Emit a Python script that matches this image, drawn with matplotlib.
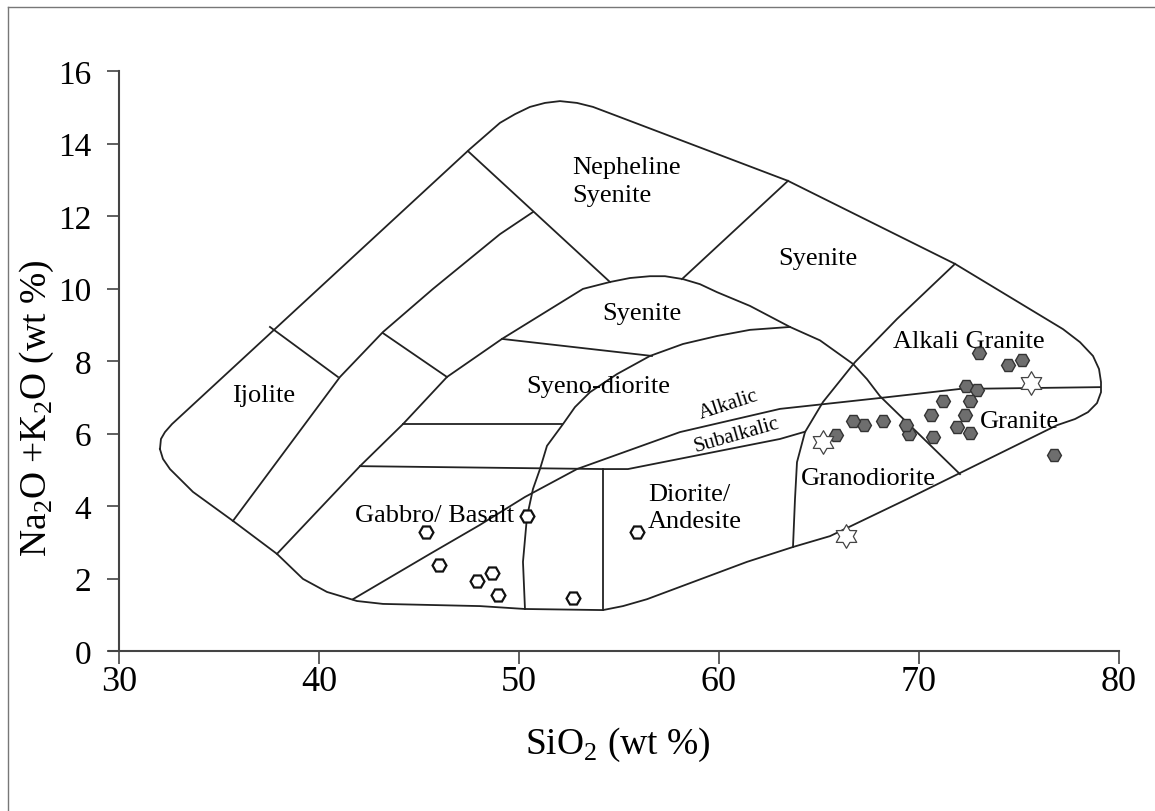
import matplotlib
matplotlib.use('Agg')
import matplotlib.pyplot as plt
from matplotlib.path import Path
from matplotlib.lines import Line2D

plt.rcParams['font.family'] = ['Liberation Serif', 'DejaVu Serif']
plt.rcParams['mathtext.fontset'] = 'custom'
plt.rcParams['mathtext.rm'] = 'Liberation Serif'

# ─── samples: SiO2 vs Na2O+K2O (wt %) ───────────────────────────
granite_sio2 = [73.0, 74.45, 75.15, 72.35, 72.9, 72.55, 71.2, 70.6, 72.3, 71.9,
                72.55, 70.7, 69.5, 69.35, 68.2, 67.25, 66.7, 65.85, 76.75]
granite_alk = [8.22, 7.89, 8.03, 7.31, 7.20, 6.90, 6.90, 6.51, 6.51, 6.18,
               6.01, 5.90, 5.99, 6.23, 6.34, 6.23, 6.34, 5.96, 5.41]

mafic_sio2 = [45.35, 46.0, 47.9, 48.65, 48.95, 50.4, 52.7, 55.9]
mafic_alk = [3.28, 2.37, 1.93, 2.15, 1.54, 3.72, 1.46, 3.28]

star_sio2 = [75.6, 65.2, 66.35]
star_alk = [7.39, 5.77, 3.17]

# ─── field boundaries (SiO2, alkali) ─────────────────────────────
outline = [
    (32.05, 5.57), (32.1, 5.85), (32.3, 6.04), (32.65, 6.26), (47.55, 13.85),
    (48.3, 14.21), (49.05, 14.57), (49.8, 14.81), (50.55, 15.01), (51.3, 15.12),
    (52.05, 15.17), (52.9, 15.12), (53.7, 15.01), (54.9, 14.76), (63.45, 12.97),
    (71.8, 10.68), (77.2, 8.88), (78.05, 8.52), (78.7, 8.14), (79.0, 7.78),
    (79.1, 7.42), (79.1, 7.14), (78.9, 6.84), (78.45, 6.59), (77.8, 6.40),
    (76.9, 6.23), (69.4, 4.19), (65.55, 3.17), (63.7, 2.87), (61.4, 2.46),
    (58.05, 1.77), (56.4, 1.43), (55.2, 1.24), (54.2, 1.13), (50.3, 1.16),
    (48.05, 1.24), (43.2, 1.30), (41.9, 1.38), (40.4, 1.63), (39.2, 1.99),
    (37.9, 2.68), (35.7, 3.59), (33.7, 4.39), (32.55, 5.02), (32.2, 5.3),
    (32.05, 5.57),
]

# diagonal behind ijolite
diag_ijolite = [(35.7, 3.59), (41.05, 7.56), (43.2, 8.80), (45.7, 9.99),
                (49.05, 11.50), (50.7, 12.11)]

# gabbro left edge -> syenite dome -> granite/granodiorite divide
dome = [(37.9, 2.68), (42.05, 5.10), (44.2, 6.26), (46.4, 7.56), (49.15, 8.61),
        (53.2, 9.99), (54.55, 10.18), (55.55, 10.29), (56.55, 10.34), (57.3, 10.34),
        (58.2, 10.26), (59.05, 10.12), (59.9, 9.90), (61.55, 9.52), (63.55, 8.94),
        (65.05, 8.57), (66.7, 7.92), (67.4, 7.50), (68.05, 7.03), (72.05, 4.88)]

# syeno-diorite / diorite arc
arc = [(50.3, 1.16), (50.2, 2.46), (50.4, 3.70), (50.7, 4.47), (51.05, 5.02),
       (51.4, 5.66), (52.2, 6.26), (52.8, 6.73), (53.55, 7.14), (54.9, 7.64),
       (56.55, 8.14), (58.2, 8.47), (59.9, 8.69), (61.55, 8.86), (63.55, 8.94)]

# alkali granite / granodiorite divide
granite_div = [(71.8, 10.68), (68.9, 9.16), (66.8, 7.97), (65.2, 6.87),
               (64.3, 6.04), (63.9, 5.21), (63.8, 4.19), (63.7, 2.87)]

# alkalic / subalkalic line
alkalic = [(41.7, 1.43), (45.55, 2.68), (48.05, 3.48), (50.3, 4.25), (52.9, 5.02),
           (58.05, 6.04), (63.05, 6.68), (68.05, 6.98), (72.05, 7.23), (79.05, 7.28)]

straight = [
    [(42.05, 5.10), (54.2, 5.02), (55.45, 5.02), (63.05, 5.85), (64.3, 6.05)],
    [(44.2, 6.26), (52.15, 6.26)],
    [(54.2, 5.02), (54.2, 1.13)],
    [(37.55, 8.94), (40.95, 7.56)],
    [(43.2, 8.77), (46.4, 7.56)],
    [(47.45, 13.79), (54.55, 10.18)],
    [(58.15, 10.26), (63.45, 12.97)],
    [(49.15, 8.61), (56.65, 8.14)],
]

C_LINE = '#222222'
C_AXIS = '#444444'

fig = plt.figure(figsize=(11.55, 8.12), dpi=100)
ax = fig.add_axes([0.0926, 0.1836, 0.8797, 0.7411])
ax.set_xlim(29.4, 80.2)
ax.set_ylim(-0.3, 16.3)


def trace(pts, lw=1.3):
    xs = [p[0] for p in pts]
    ys = [p[1] for p in pts]
    ax.plot(xs, ys, color=C_LINE, lw=lw, solid_joinstyle='round', zorder=2)


trace(outline)
for seg in [diag_ijolite, dome, arc, granite_div, alkalic] + straight:
    trace(seg)

# field names
fs = 19
ax.text(52.65, 13.35, 'Nepheline', ha='left', va='center', fontsize=fs)
ax.text(52.65, 12.58, 'Syenite', ha='left', va='center', fontsize=fs)
ax.text(64.95, 10.84, 'Syenite', ha='center', va='center', fontsize=fs)
ax.text(56.15, 9.32, 'Syenite', ha='center', va='center', fontsize=fs)
ax.text(37.25, 7.06, 'Ijolite', ha='center', va='center', fontsize=fs)
ax.text(53.95, 7.31, 'Syeno-diorite', ha='center', va='center', fontsize=fs)
ax.text(72.5, 8.55, 'Alkali Granite', ha='center', va='center', fontsize=fs)
ax.text(75.0, 6.34, 'Granite', ha='center', va='center', fontsize=fs)
ax.text(67.45, 4.77, 'Granodiorite', ha='center', va='center', fontsize=fs)
ax.text(45.8, 3.75, 'Gabbro/ Basalt', ha='center', va='center', fontsize=fs)
ax.text(56.45, 4.33, 'Diorite/', ha='left', va='center', fontsize=fs)
ax.text(56.45, 3.59, 'Andesite', ha='left', va='center', fontsize=fs)
ax.text(60.5, 6.81, 'Alkalic', ha='center', va='center', fontsize=15, rotation=18)
ax.text(60.9, 5.98, 'Subalkalic', ha='center', va='center', fontsize=15, rotation=16)

# samples
ax.plot(mafic_sio2, mafic_alk, linestyle='none', marker='H', markersize=10,
        markerfacecolor='white', markeredgecolor='#111111', markeredgewidth=1.6, zorder=4)
ax.plot(granite_sio2, granite_alk, linestyle='none', marker='H', markersize=10,
        markerfacecolor='#6e6e6e', markeredgecolor='#333333', markeredgewidth=1.0, zorder=4)
star = Path.unit_regular_star(6, 0.58)
ax.plot(star_sio2, star_alk, linestyle='none', marker=star, markersize=17,
        markerfacecolor='white', markeredgecolor='#444444', markeredgewidth=0.9, zorder=5)

# axes
for s in ['top', 'right']:
    ax.spines[s].set_visible(False)
ax.spines['left'].set_position(('data', 30))
ax.spines['left'].set_bounds(0, 16)
ax.spines['bottom'].set_position(('data', 0))
ax.spines['bottom'].set_bounds(29.5, 80)
for s in ['left', 'bottom']:
    ax.spines[s].set_color(C_AXIS)
    ax.spines[s].set_linewidth(1.5)

ax.set_xticks(range(30, 81, 10))
ax.set_yticks(range(0, 17, 2))
ax.tick_params(axis='x', direction='out', length=9, width=1.2, color=C_AXIS,
               labelsize=26, pad=1)
ax.tick_params(axis='y', direction='out', length=9, width=1.2, color=C_AXIS,
               labelsize=24, pad=11)

fig.text(37 / 1155, 1 - 408 / 812, 'Na$_\\mathregular{2}$O +K$_\\mathregular{2}$O (wt %)',
         rotation=90, ha='center', va='center', fontsize=27)
fig.text(618 / 1155, 1 - 745 / 812, 'SiO$_\\mathregular{2}$ (wt %)',
         ha='center', va='center', fontsize=27)

# thin frame on the top and left edge
fx, fy = 8 / 1155, 1 - 8 / 812
fig.add_artist(Line2D([fx, fx], [0, fy], transform=fig.transFigure, color='#777777', lw=1))
fig.add_artist(Line2D([fx, 1], [fy, fy], transform=fig.transFigure, color='#777777', lw=1))

fig.savefig('out.png', dpi=100, facecolor='white')
